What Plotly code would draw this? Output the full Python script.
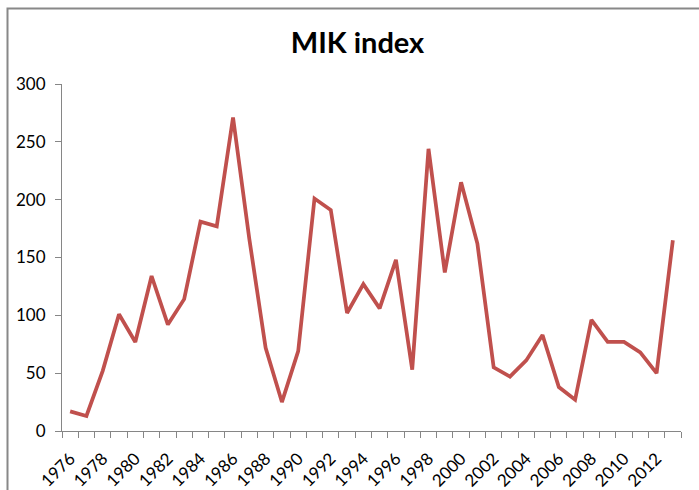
import plotly.graph_objects as go

years = list(range(1976, 2014))
mik = [17, 13, 52, 101, 77, 134, 92, 114, 181, 177, 271, 166, 72, 25, 69, 201, 191, 102,
       127, 106, 148, 53, 244, 137, 215, 162, 55, 47, 61, 83, 38, 27, 96, 77, 77, 68, 50, 165]
ytick_vals = [0, 50, 100, 150, 200, 250, 300]
xtick_labels = [str(y) for y in years[::2]]

FONT = "Lato"
AXIS_COLOR = "#868686"

idx = list(range(len(years)))

fig = go.Figure()
fig.add_trace(go.Scatter(
    x=idx, y=mik, mode="lines",
    line=dict(color="#C0504D", width=3.75),
    hoverinfo="skip", showlegend=False,
))
# invisible trace to activate the boundary-tick axis
fig.add_trace(go.Scatter(x=[idx[0]], y=[mik[0]], xaxis="x2", mode="markers",
                         marker=dict(opacity=0), showlegend=False, hoverinfo="skip"))

W, H = 699, 490
L, R, T, B = 62, 18, 84, 59
pw, ph = W - L - R, H - T - B

fig.update_layout(
    width=W, height=H,
    margin=dict(l=L, r=R, t=T, b=B, autoexpand=False),
    paper_bgcolor="white", plot_bgcolor="white",
    font=dict(family=FONT, size=17, color="black"),
    title=dict(text="<b>MIK index</b>", x=357.5 / W, xref="container", xanchor="center",
               y=1 - 43 / H, yref="container", yanchor="middle",
               font=dict(family=FONT, size=29, color="black")),
    xaxis=dict(
        range=[-0.5, len(years) - 0.5], automargin=False,
        tickvals=idx[::2], ticktext=xtick_labels,
        tickangle=-45, ticks="", showgrid=False, zeroline=False,
        showline=True, linecolor=AXIS_COLOR, linewidth=1,
        ticklabelstandoff=10,
        tickfont=dict(family=FONT, size=17, color="black"),
    ),
    xaxis2=dict(
        overlaying="x", side="bottom", anchor="y", automargin=False,
        range=[-0.5, len(years) - 0.5],
        tickvals=[i - 0.5 for i in range(len(years) + 1)],
        ticks="outside", ticklen=6, tickcolor=AXIS_COLOR, tickwidth=1,
        showticklabels=False, showgrid=False, zeroline=False, showline=False,
    ),
    yaxis=dict(
        range=[0, 300], tickvals=ytick_vals, automargin=False,
        ticks="outside", ticklen=6, tickcolor=AXIS_COLOR, tickwidth=1,
        showgrid=False, zeroline=False,
        showline=True, linecolor=AXIS_COLOR, linewidth=1,
        ticklabelstandoff=6,
        tickfont=dict(family=FONT, size=17, color="black"),
    ),
    shapes=[dict(
        type="rect", xref="paper", yref="paper",
        x0=(7.5 - L) / pw, x1=(W + 20 - L) / pw,
        y0=-(B + 20) / ph, y1=(H - B - 8.5) / ph,
        line=dict(color="#888888", width=2), fillcolor="rgba(0,0,0,0)", layer="below",
    )],
)

fig.write_html("out.html",
               config={"displayModeBar": False, "staticPlot": True},
               post_script="document.body.style.margin='0';document.body.style.overflow='hidden';")
